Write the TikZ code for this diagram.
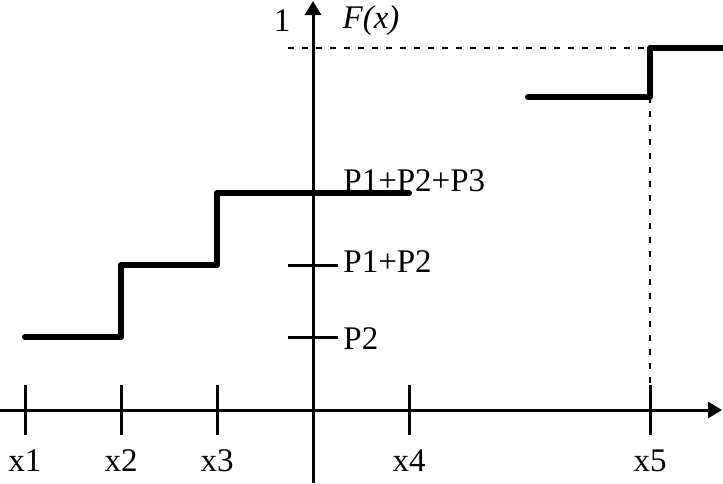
\documentclass[tikz,border=0pt]{standalone}
\usepackage{fontspec}
\setmainfont{Liberation Serif}
\usetikzlibrary{arrows.meta}

\tikzset{
    axis/.style={line width=1.5pt, -{Triangle[length=7pt,width=8pt]}},
    tick/.style={line width=1.5pt},
    stair/.style={line width=3pt, line cap=round, line join=round},
    guide/.style={line width=1pt, dash pattern=on 3pt off 4pt},
    lbl/.style={inner sep=0pt, font=\fontsize{16.5}{19}\selectfont}
}

\begin{document}
\begin{tikzpicture}[x=0.5pt, y=-0.5pt]
    \useasboundingbox (0,0) rectangle (723,483);
    % axes
    \coordinate (xs) at (0,410);
    \coordinate (xe) at (722,410);
    \coordinate (ys) at (313,483);
    \coordinate (ye) at (313,1);
    \draw[axis] (xs) -- (xe);
    \draw[axis] (ys) -- (ye);
    % ticks on the x axis
    \foreach \name/\px in {x1/25, x2/121, x3/217, x4/409, x5/650} {
        \coordinate (\name t) at (\px,385);
        \coordinate (\name b) at (\px,435);
        \draw[tick] (\name t) -- (\name b);
        \node[lbl] (\name) at (\px,461) {\name};
    }
    % ticks on the y axis
    \coordinate (p2l) at (288,337);
    \coordinate (p2r) at (338,337);
    \coordinate (p12l) at (288,265);
    \coordinate (p12r) at (338,265);
    \draw[tick] (p2l) -- (p2r);
    \draw[tick] (p12l) -- (p12r);
    \node[lbl, anchor=west] (p2) at (343,339) {P2};
    \node[lbl, anchor=west] (p12) at (343,262) {P1+P2};
    \node[lbl, anchor=west] (p123) at (343,181) {P1+P2+P3};
    \node[lbl] (one) at (282,21) {1};
    \node[lbl] (fx) at (371,21) {\itshape F(x)};
    % guides
    \coordinate (g1) at (288,48);
    \coordinate (g2) at (722,48);
    \coordinate (g3) at (650,97);
    \draw[guide] (g1) -- (g2);
    \draw[guide] (g3) -- (x5t);
    % steps
    \draw[stair] (25,337) -- (121,337) -- (121,265) -- (217,265)
        -- (217,193) -- (409,193);
    \draw[stair] (528,97) -- (650,97) -- (650,48) -- (723,48);
\end{tikzpicture}
\end{document}
